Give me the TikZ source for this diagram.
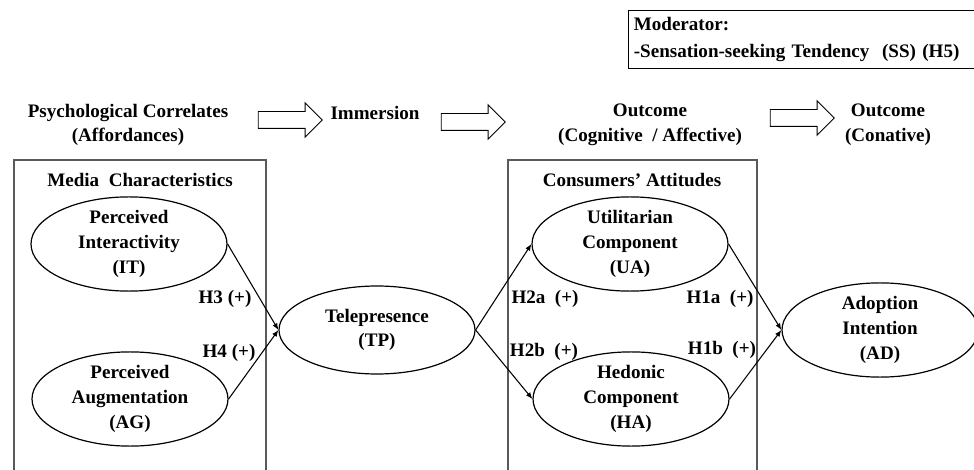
\documentclass[tikz,border=0pt]{standalone}
\usepackage{fontspec}
\setmainfont{Liberation Serif}
\usetikzlibrary{positioning,arrows.meta,shapes.geometric,shapes.arrows}
\newcommand{\hfont}{\fontsize{14.3}{18.5}\selectfont\bfseries}

\begin{document}
\begin{tikzpicture}[x=0.75pt, y=-0.75pt,
  construct/.style={ellipse, draw=black, line width=0.9pt, inner sep=0pt,
    minimum width=147pt, minimum height=66pt, align=center, font=\hfont},
  frame/.style={draw=black!65, line width=0.8pt},
  head/.style={align=center, font=\hfont},
  hyp/.style={font=\hfont, inner sep=1pt},
  hollow/.style={single arrow, draw=black, line width=0.7pt, fill=white,
    minimum height=48pt, inner xsep=0pt, inner ysep=6pt,
    single arrow head extend=6.5pt, single arrow head indent=0pt},
  path/.style={-{Latex[length=5pt,width=4pt]}, line width=0.8pt}
]
  \useasboundingbox (0,0) rectangle (974,470);

  % moderator
  \node[draw=black, line width=0.8pt, anchor=north west, align=left,
    font=\hfont, minimum width=258pt, minimum height=43pt, text width=252pt,
    inner xsep=4pt, inner ysep=5pt]
    (mod) at (628,10) {Moderator:\\[2pt]-Sensation-seeking Tendency\ \ (SS) (H5)};

  % stage headings
  \node[head] (psych) at (128,125) {Psychological Correlates\\(Affordances)};
  \node[head] (imm) at (375,113) {Immersion};
  \node[head] (cogaff) at (650,125) {Outcome\\(Cognitive\ \ / Affective)};
  \node[head] (conat) at (888,125) {Outcome\\(Conative)};
  \node[hollow] (flow1) at (286,120) {};
  \node[hollow] (flow2) at (469,122) {};
  \node[hollow] (flow3) at (798,118) {};

  % boxes
  \draw[frame] (14,475) -- (14,160) -- (266,160) -- (266,475);
  \draw[frame] (508,475) -- (508,160) -- (757,160) -- (757,475);
  \node[head] (media) at (140,180) {Media\ \ Characteristics};
  \node[head] (attit) at (632,180) {Consumers' Attitudes};

  % constructs
  \node[construct] (it) at (129,244) {Perceived\\Interactivity\\(IT)};
  \node[construct] (ag) at (130,399) {Perceived\\Augmentation\\(AG)};
  \node[construct] (tp) at (377,330) {Telepresence\\(TP)};
  \node[construct] (ua) at (630,244) {Utilitarian\\Component\\(UA)};
  \node[construct] (ha) at (631,399) {Hedonic\\Component\\(HA)};
  \node[construct] (ad) at (880,330) {Adoption\\Intention\\(AD)};

  % paths
  \draw[path] (it.east) -- (tp.west);
  \draw[path] (ag.east) -- (tp.west);
  \draw[path] (tp.east) -- (ua.west);
  \draw[path] (tp.east) -- (ha.west);
  \draw[path] (ua.east) -- (ad.west);
  \draw[path] (ha.east) -- (ad.west);

  \node[hyp] (h3) at (225,299) {H3 (+)};
  \node[hyp] (h4) at (229,353) {H4 (+)};
  \node[hyp] (h2a) at (545,299) {H2a\ \ (+)};
  \node[hyp] (h2b) at (544,352) {H2b\ \ (+)};
  \node[hyp] (h1a) at (720,299) {H1a\ \ (+)};
  \node[hyp] (h1b) at (722,350) {H1b\ \ (+)};
\end{tikzpicture}
\end{document}
